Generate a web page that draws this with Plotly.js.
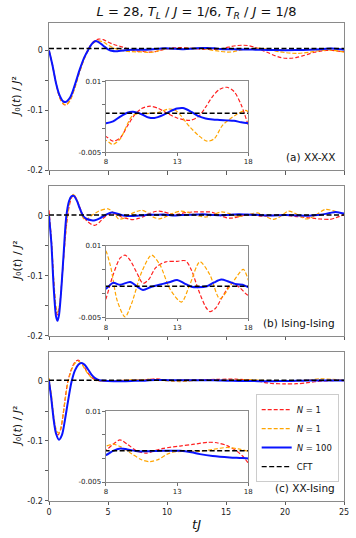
<!DOCTYPE html>
<html><head><meta charset="utf-8">
<script src="https://cdn.plot.ly/plotly-3.0.1.min.js"></script>
<style>html,body{margin:0;padding:0;background:#fff}#chart{width:356px;height:538px}</style>
</head><body><div id="chart"></div>
<script>
// ---------- data ----------
const tRange = [0, 25];
const cftValues = [0.0032, 0.0016, 0.0016];   // (a) XX-XX, (b) Ising-Ising, (c) XX-Ising
const panelLabels = ["(a) XX-XX", "(b) Ising-Ising", "(c) XX-Ising"];
const legendNames = ["<i>N</i> = 1", "<i>N</i> = 1", "<i>N</i> = 100", "CFT"];
const mainTicksX = [0, 5, 10, 15, 20, 25];
const mainTicksY = [-0.2, -0.1, 0];
const mainTickText = ["-0.2", "-0.1", "0"];
const mainMinorY = [-0.15, -0.05];
const insetTicksX = [8, 13, 18];
const insetTicksY = [-0.005, 0.01];
const insetTickText = ["-0.005", "0.01"];
const insetMinorY = [0, 0.005];

// panel (a) XX-XX
const tRedA = [0,0.3,0.6,0.9,1.2,1.45,1.8,2.2,2.6,3.0,3.4,3.8,4.2,4.6,5.0,5.5,6.0,6.5,7.0,7.5,8.0,8.5,9.0,9.5,10.0,10.5,11.1,11.7,12.3,13.0,13.9,14.5,15.0,15.5,16.0,16.5,17.0,17.5,18.0,18.5,19.0,19.5,20.0,20.5,21.0,21.5,22.0,22.5,23.0,23.5,24.0,24.5,25.0];
const redA = [0,-0.025,-0.055,-0.078,-0.089,-0.091,-0.082,-0.06,-0.034,-0.012,0.005,0.015,0.019,0.018,0.014,0.01,0.007,0.004,0.001,-0.001,-0.0017,-0.0027,-0.002,0.0005,0.0028,0.0042,0.0047,0.0042,0.0032,0.0022,0.0017,0.0025,0.0045,0.0068,0.0083,0.0087,0.0078,0.005,0.0007,-0.003,-0.0075,-0.011,-0.013,-0.013,-0.0115,-0.009,-0.006,-0.003,-0.001,0,0,-0.001,-0.002];
const tOrangeA = [0,0.3,0.6,0.9,1.2,1.45,1.8,2.2,2.6,3.0,3.4,3.8,4.2,4.6,5.0,5.5,6.0,6.5,7.0,7.5,8.0,8.47,9.0,9.9,10.8,11.7,12.4,12.9,13.9,14.5,15.1,15.6,16.2,17.1,17.8,18.0,18.5,19.0,19.5,20.0,20.5,21.0,21.5,22.0,22.5,23.0,23.5,24.0,24.5,25.0];
const orangeA = [0,-0.025,-0.055,-0.078,-0.089,-0.0905,-0.083,-0.062,-0.036,-0.014,0.003,0.013,0.016,0.014,0.009,0.004,0.001,-0.001,-0.002,-0.0025,-0.0025,-0.0034,-0.0022,0.0028,0.0031,0.0034,0.0041,0.0038,0.0003,-0.0015,-0.0027,-0.0022,0.0007,0.0028,0.0038,0.0035,0.002,0,-0.002,-0.0035,-0.0045,-0.0048,-0.0042,-0.003,-0.0015,0,0.0008,0.0005,-0.001,-0.003];
const tBlueA = [0,0.3,0.6,0.9,1.2,1.4,1.8,2.2,2.6,3.0,3.3,3.6,3.9,4.2,4.6,5.0,5.4,5.8,6.3,7.0,7.5,8.0,8.5,9.0,9.5,9.9,10.5,11.0,11.4,12.0,12.5,13.0,13.4,14.0,14.5,15.0,15.5,16.0,16.5,17.0,17.5,18.0,19.0,20.0,21.0,22.0,23.0,23.5,24.0,24.5,25.0];
const blueA = [0,-0.025,-0.055,-0.075,-0.085,-0.086,-0.078,-0.057,-0.032,-0.011,0,0.01,0.0155,0.014,0.008,0.002,-0.001,-0.0012,0,0.001,0.001,0.0011,0.0015,0.0025,0.0033,0.0035,0.003,0.0023,0.0022,0.0028,0.0036,0.0042,0.0043,0.0035,0.0026,0.0021,0.0019,0.0018,0.0017,0.0016,0.0013,0.0011,0.0008,0.0005,0.0008,0.0012,0.002,0.003,0.0033,0.0025,0.001];

// panel (b) Ising-Ising
const tRedB = [0,0.2,0.4,0.6,0.72,0.9,1.1,1.3,1.5,1.7,1.9,2.1,2.3,2.6,2.9,3.2,3.6,3.9,4.3,4.7,5.2,5.7,6.2,7.1,7.6,8.0,8.5,9.0,9.34,9.7,10.2,10.6,11.0,11.5,12.2,13.0,13.6,14.0,14.5,15.0,15.3,15.7,16.2,16.85,17.4,18.0,18.5,19.0,19.5,20.0,20.5,21.0,21.5,22.0,22.5,23.0,23.8,24.3,25.0];
const redB = [0.0095,-0.04,-0.11,-0.158,-0.165,-0.15,-0.105,-0.055,-0.012,0.015,0.03,0.035,0.03,0.015,0,-0.008,-0.014,-0.0155,-0.01,-0.002,0.004,0.003,-0.002,-0.006,-0.004,-0.001,0.004,0.0075,0.0081,0.007,0.0042,0.0022,0.003,0.0055,0.0067,0.0068,0.0069,0.005,0.0008,-0.0027,-0.0037,-0.003,-0.0005,0.0022,0.0013,-0.0003,0,0.001,0.0015,0.001,0,-0.001,-0.002,-0.003,-0.004,-0.005,-0.0056,-0.003,0.002];
const tOrangeB = [0,0.2,0.4,0.6,0.72,0.9,1.1,1.3,1.5,1.7,1.9,2.05,2.3,2.6,3.0,3.3,3.7,4.2,5.0,5.5,5.9,6.3,7.0,7.5,7.9,8.3,8.8,9.34,9.8,10.5,11.2,11.8,12.5,13.3,13.9,14.6,15.3,16.0,16.8,17.65,18.0,18.5,19.0,19.5,20.3,21.0,21.8,22.5,23.4,24.2,25.0];
const orangeB = [0,-0.04,-0.105,-0.152,-0.161,-0.148,-0.105,-0.055,-0.01,0.018,0.033,0.036,0.03,0.012,-0.006,-0.004,0.002,0.008,0.012,0.005,-0.005,-0.004,0.004,0.008,0.0093,0.006,-0.0015,-0.0048,-0.002,0.0045,0.0081,0.006,0.001,-0.0017,0.002,0.0067,0.004,-0.001,0.002,0.0051,0.0029,-0.002,-0.0056,-0.002,0.008,0.003,-0.005,0,0.011,0.008,0.003];
const tBlueB = [0,0.2,0.4,0.6,0.72,0.85,1.05,1.25,1.47,1.7,1.9,2.1,2.35,2.6,2.9,3.2,3.6,3.9,4.3,4.8,5.3,5.8,6.3,7.0,7.5,8.0,8.5,9.0,9.7,10.2,10.6,11.2,12.0,12.5,13.0,13.5,14.0,14.5,15.1,15.6,16.1,16.6,17.2,17.6,18.0,19.0,20.0,21.0,22.0,23.0,23.8,24.3,25.0];
const blueB = [0,-0.045,-0.12,-0.168,-0.175,-0.165,-0.12,-0.06,0,0.025,0.033,0.0335,0.026,0.013,0,-0.005,-0.007,-0.0072,-0.004,0.002,0.0057,0.004,0.001,0,0.0005,0.0011,0.0023,0.0019,0.0025,0.0015,0.0008,0.0015,0.0021,0.0025,0.0029,0.0022,0.0015,0.0014,0.0016,0.0024,0.003,0.0026,0.002,0.0019,0.0014,0.001,0.0015,0.001,0.0005,0.002,0.005,0.0067,0.004];

// panel (c) XX-Ising
const tRedC = [0,0.2,0.4,0.6,0.77,1.0,1.2,1.4,1.6,1.9,2.2,2.5,2.8,3.1,3.4,3.7,4.0,4.5,5.0,6.0,7.0,8.0,8.5,8.98,9.5,10.2,10.86,11.4,12.0,13.2,14.2,15.2,15.8,16.5,17.2,17.6,18.0,18.5,19.0,20.0,21.0,21.8,22.5,23.0,24.0,25.0];
const redC = [0,-0.03,-0.065,-0.085,-0.09,-0.08,-0.055,-0.025,0,0.02,0.032,0.035,0.03,0.02,0.011,0.005,0.002,0,0,0.001,0.0015,0.0018,0.003,0.0039,0.003,0.0015,0.0011,0.0016,0.0021,0.0026,0.003,0.0034,0.0033,0.0027,0.0015,0.0005,-0.001,-0.003,-0.004,-0.0045,-0.0043,-0.003,-0.001,0,0.001,0.001];
const tOrangeC = [0,0.2,0.4,0.6,0.8,1.0,1.2,1.4,1.6,1.9,2.2,2.5,2.8,3.1,3.4,3.7,4.0,5.0,6.0,7.0,8.0,8.5,9.0,9.8,10.5,11.1,11.7,12.3,12.9,13.8,14.6,15.5,16.5,17.3,18.0,19.0,20.0,21.0,22.0,23.0,24.0,25.0];
const orangeC = [0.005,-0.022,-0.058,-0.08,-0.087,-0.078,-0.055,-0.027,-0.002,0.018,0.03,0.033,0.028,0.018,0.01,0.004,0.001,0,0.001,0.002,0.0026,0.003,0.0025,0.001,-0.0003,-0.0007,-0.0002,0.0009,0.0014,0.0015,0.0015,0.0019,0.0023,0.002,0.0015,0.0005,0,0.0005,0.002,0.004,0.003,0.002];
const tBlueC = [0,0.2,0.4,0.6,0.85,1.1,1.35,1.6,1.9,2.2,2.5,2.75,3.0,3.3,3.6,3.9,4.2,4.7,5.5,6.5,7.3,8.0,8.5,9.0,9.5,10.2,10.9,12.0,13.2,14.0,14.6,15.5,16.7,17.4,18.0,19.0,20.0,21.0,22.0,23.0,24.0,25.0];
const blueC = [0,-0.03,-0.065,-0.088,-0.098,-0.09,-0.065,-0.035,-0.002,0.018,0.028,0.0305,0.028,0.02,0.011,0.005,0.002,0.0005,0,0,0.0005,0.0007,0.0016,0.0021,0.0019,0.0015,0.0015,0.0016,0.0016,0.0013,0.0009,0.0005,0.0002,0.0001,0,0,0.0002,0.0005,0.001,0.0012,0.0012,0.0012];

// ---------- styling / construction ----------
const panels = [
  {t:[tRedA,tOrangeA,tBlueA], v:[redA,orangeA,blueA]},
  {t:[tRedB,tOrangeB,tBlueB], v:[redB,orangeB,blueB]},
  {t:[tRedC,tOrangeC,tBlueC], v:[redC,orangeC,blueC]}
];
const colors = ["#ff2020", "#ffa500", "#0a14ff"];
const widths = [1.2, 1.2, 2.0];
const dashes = ["4px,2px", "4px,2px", "solid"];
const FONT = "DejaVu Sans, Verdana, sans-serif";
const frame = "#8a8a8a";

const traces = [];
panels.forEach((p, i) => {
  const n = i + 1;
  [["", ""], ["x" + (n + 3), "y" + (n + 3)]].forEach((ax, k) => {
    const xa = k === 0 ? (n === 1 ? "x" : "x" + n) : ax[0];
    const ya = k === 0 ? (n === 1 ? "y" : "y" + n) : ax[1];
    for (let s = 0; s < 3; s++) {
      traces.push({
        x: p.t[s], y: p.v[s], xaxis: xa, yaxis: ya, type: "scatter", mode: "lines",
        name: legendNames[s], legendrank: s + 1,
        showlegend: (n === 3 && k === 0),
        line: {color: colors[s], width: widths[s], dash: dashes[s], shape: "spline", smoothing: 0.8},
        hoverinfo: "skip"
      });
    }
    traces.push({
      x: tRange, y: [cftValues[i], cftValues[i]], xaxis: xa, yaxis: ya, type: "scatter", mode: "lines",
      name: legendNames[3], legendrank: 4, showlegend: (n === 3 && k === 0),
      line: {color: "#000", width: 1.4, dash: "5px,2.5px"}, hoverinfo: "skip"
    });
  });
});

const tickCommon = {ticks: "outside", tickcolor: "#333", showline: true, mirror: true, linecolor: frame,
  linewidth: 1, showgrid: false, zeroline: false, fixedrange: true};
function mainX(showLabels) {
  return Object.assign({}, tickCommon, {range: tRange, tickmode: "array", tickvals: mainTicksX,
    ticktext: mainTicksX.map(String), showticklabels: showLabels, ticklen: 3.5, tickwidth: 0.8,
    tickfont: {size: 8, color: "#222", family: FONT}});
}
function mainY(dom, top) {
  return Object.assign({}, tickCommon, {domain: dom, range: [-0.2, top], tickmode: "array", tickvals: mainTicksY,
    ticktext: mainTickText, ticklen: 3.5, tickwidth: 0.8, tickfont: {size: 8, color: "#222", family: FONT},
    minor: {tickmode: "array", tickvals: mainMinorY, ticks: "outside", ticklen: 3.5, tickwidth: 0.8, tickcolor: "#333", showgrid: false}});
}
function insetX(anchor, dom) {
  return Object.assign({}, tickCommon, {domain: dom, anchor: anchor, range: [8, 18], tickmode: "array",
    tickvals: insetTicksX, ticktext: insetTicksX.map(String), ticklen: 2.5, tickwidth: 0.7,
    tickfont: {size: 7, color: "#222", family: FONT}});
}
function insetY(anchor, dom) {
  return Object.assign({}, tickCommon, {domain: dom, anchor: anchor, range: [-0.005, 0.01], tickmode: "array",
    tickvals: insetTicksY, ticktext: insetTickText, ticklen: 2.5, tickwidth: 0.7,
    tickfont: {size: 7, color: "#222", family: FONT},
    minor: {tickmode: "array", tickvals: insetMinorY, ticks: "outside", ticklen: 2.5, tickwidth: 0.7, tickcolor: "#333", showgrid: false}});
}

const insetXDom = [0.1932, 0.6756];
const layout = {
  width: 356, height: 538,
  margin: {l: 49, r: 12, t: 22.5, b: 37, pad: 0},
  paper_bgcolor: "#fff", plot_bgcolor: "rgba(0,0,0,0)",
  font: {family: FONT, color: "#111"},
  showlegend: true,
  title: {text: "<i>L</i> = 28, <i>T</i><sub><i>L</i></sub> / <i>J</i> = 1/6, <i>T</i><sub><i>R</i></sub> / <i>J</i> = 1/8",
    font: {size: 13, family: FONT, color: "#111"}, x: 0.552, xanchor: "center", y: 0.978, yanchor: "middle"},
  xaxis: Object.assign(mainX(false), {anchor: "y"}),
  yaxis: Object.assign(mainY([0.6917, 0.9996], 0.0455), {anchor: "x"}),
  xaxis2: Object.assign(mainX(false), {anchor: "y2"}),
  yaxis2: Object.assign(mainY([0.3455, 0.6583], 0.0495), {anchor: "x2"}),
  xaxis3: Object.assign(mainX(true), {anchor: "y3",
    title: {text: "<i>tJ</i>", font: {size: 13, family: FONT, color: "#111"}, standoff: 4}}),
  yaxis3: Object.assign(mainY([0.0006, 0.312], 0.049), {anchor: "x3"}),
  xaxis4: insetX("y4", insetXDom), yaxis4: insetY("x4", [0.730, 0.8784]),
  xaxis5: insetX("y5", insetXDom), yaxis5: insetY("x5", [0.3831, 0.5335]),
  xaxis6: insetX("y6", insetXDom), yaxis6: insetY("x6", [0.0397, 0.1881]),
  legend: {x: 0.982, y: 0.2236, xanchor: "right", yanchor: "top", bgcolor: "rgba(255,255,255,0.9)",
    bordercolor: "#cccccc", borderwidth: 1, font: {size: 8.5, family: FONT, color: "#111"},
    traceorder: "normal", itemwidth: 30, tracegroupgap: 0},
  annotations: []
};
const yTitleCenters = [0.8455, 0.502, 0.156];
const labelY = [0.719, 0.3726, 0.0278];
for (let i = 0; i < 3; i++) {
  layout.annotations.push({text: "<i>J</i>\u2080(<i>t</i>) / <i>J</i>\u00b2", xref: "paper", yref: "paper",
    x: -0.108, y: yTitleCenters[i], xanchor: "center", yanchor: "middle", textangle: -90, showarrow: false,
    font: {size: 11, family: FONT, color: "#111"}});
  layout.annotations.push({text: panelLabels[i], xref: "paper", yref: "paper", x: 0.976, y: labelY[i],
    xanchor: "right", yanchor: "middle", showarrow: false, font: {size: 10.5, family: FONT, color: "#111"}});
}

Plotly.newPlot("chart", traces, layout, {staticPlot: true, displayModeBar: false});
</script></body></html>
